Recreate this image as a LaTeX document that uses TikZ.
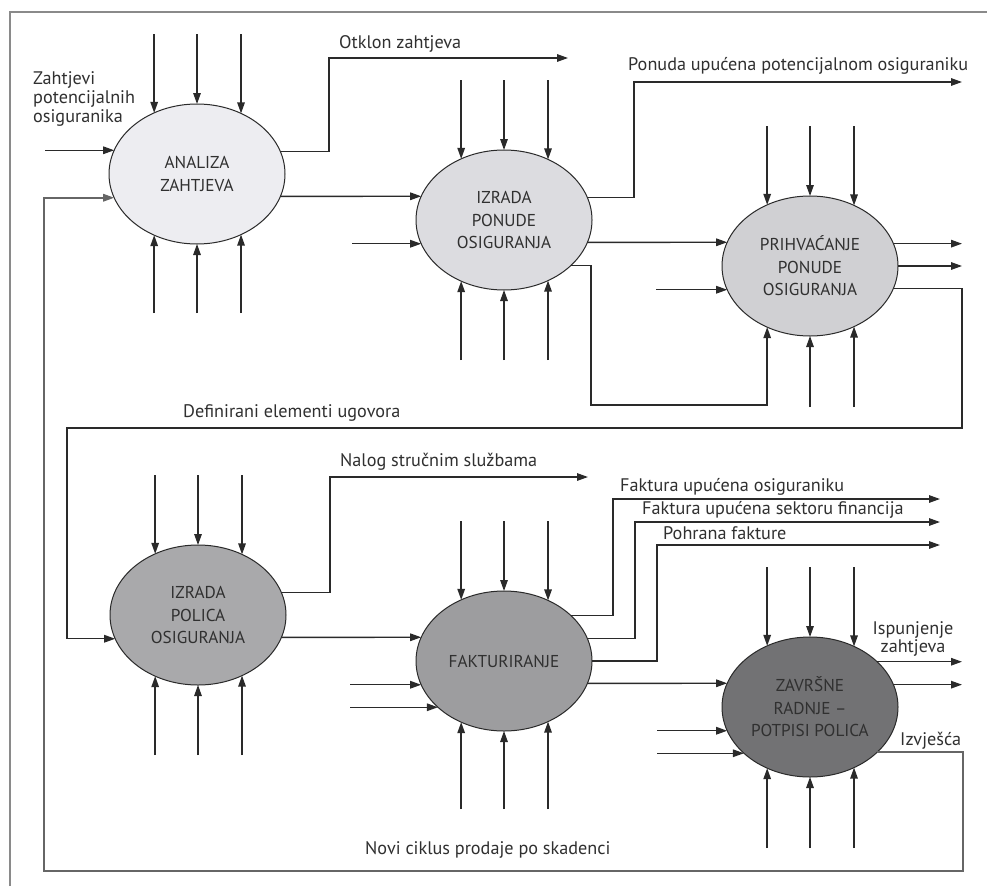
\documentclass[tikz,border=0pt]{standalone}
\usepackage{fontspec}
\setmainfont{PT Sans}
\usetikzlibrary{shapes.geometric,arrows.meta,calc}
\definecolor{fa}{HTML}{EDEDF1}
\definecolor{fb}{HTML}{DCDCE0}
\definecolor{fc}{HTML}{D0D0D3}
\definecolor{fd}{HTML}{A9A9AB}
\definecolor{fe}{HTML}{9D9D9F}
\definecolor{ff}{HTML}{727274}
\definecolor{ink}{HTML}{2A2A2A}
\definecolor{txt}{HTML}{303030}
\definecolor{frm}{HTML}{8A8A8A}
\definecolor{lp}{HTML}{666666}
\begin{document}
\begin{tikzpicture}[x=1pt,y=-1pt,
  proc/.style={ellipse, draw=ink, line width=1pt, minimum width=176pt, minimum height=140pt,
    inner sep=0pt, outer sep=0pt, align=center, font=\fontsize{17.2}{22.5}\selectfont, text=txt},
  arr/.style={draw=ink, line width=1.4pt, -{Triangle[length=11pt,width=7.5pt]}},
  lparr/.style={draw=lp, line width=1.6pt, -{Triangle[length=11pt,width=7.5pt]}},
  lbl/.style={font=\fontsize{18.2}{19}\selectfont, text=txt, inner sep=0pt},
  frame/.style={draw=frm, line width=2pt}
]
\useasboundingbox (0,0) rectangle (987,886);
\fill[white] (0,0) rectangle (987,886);
\draw[frame] (10,886) -- (10,12) -- (987,12);

% processes
\node[proc, fill=fa] (e1) at (197,174) {ANALIZA\\ZAHTJEVA};
\node[proc, fill=fb] (e2) at (504,220) {IZRADA\\PONUDE\\OSIGURANJA};
\node[proc, fill=fc] (e3) at (810,266) {PRIHVAĆANJE\\PONUDE\\OSIGURANJA};
\node[proc, fill=fd] (e4) at (198,615) {IZRADA\\POLICA\\OSIGURANJA};
\node[proc, fill=fe] (e5) at (504,661) {FAKTURIRANJE};
\node[proc, fill=ff] (e6) at (810,707) {ZAVRŠNE\\RADNJE –\\POTPISI POLICA};

% vertical stubs above and below
\foreach \e/\t/\b in {e1/140/139, e2/140/140, e3/140/141, e4/140/140, e5/140/148, e6/140/141} {
  \coordinate (\e-t) at ($(\e.center)+(0,-\t)$);
  \coordinate (\e-b) at ($(\e.center)+(0,\b)$);
  \foreach \a in {125.97,90,54.03} \draw[arr] (\e.\a |- \e-t) -- (\e.\a);
  \foreach \a in {-90,-54.03} \draw[arr] (\e.\a |- \e-b) -- (\e.\a);
}
\foreach \e in {e1,e2,e4,e5,e6} \draw[arr] (\e.-125.97 |- \e-b) -- (\e.-125.97);

% columns
\coordinate (L1) at (45,0);
\coordinate (L2) at (352,0);
\coordinate (L3) at (656,0);
\coordinate (L5) at (350,0);
\coordinate (L6) at (657,0);
\coordinate (R) at (962,0);
\coordinate (R2) at (940,0);

% row 1
\draw[arr] (e1.164.53 -| L1) -- (e1.164.53);
\coordinate (otk) at (329,58);
\coordinate (otkE) at (568,58);
\draw[arr] (e1.15.47) -| (otk) -- (otkE);
\draw[arr] (e1.-15.47) -- (e2.164.53);
\draw[arr] (e2.-164.53 -| L2) -- (e2.-164.53);
\coordinate (pon) at (634,82);
\draw[arr] (e2.15.47) -| (pon) -- (pon -| R);
\draw[arr] (e2.-15.47) -- (e3.164.53);
\coordinate (c1) at (591,405);
\draw[arr] (e2.-34.74) -| (c1) -| (e3.-125.97);
\draw[arr] (e3.-164.53 -| L3) -- (e3.-164.53);
\draw[arr] (e3.15.47) -- (e3.15.47 -| R);
\draw[arr] (e3.east) -- (e3.east -| R);
\coordinate (d1) at (962,428);
\coordinate (d2) at (67,428);
\draw[arr] (e3.-15.47) -| (d1) -- (d2) |- (e4.-164.53);

% row 2
\coordinate (nal) at (330,477);
\coordinate (nalE) at (588,477);
\draw[arr] (e4.15.47) -| (nal) -- (nalE);
\draw[arr] (e4.-15.47) -- (e5.164.53);
\draw[arr] (e5.-164.53 -| L5) -- (e5.-164.53);
\draw[arr] (e5.-145.26 -| L5) -- (e5.-145.26);
\coordinate (g1) at (613,499);
\coordinate (g2) at (635,522);
\coordinate (g3) at (657,545);
\draw[arr] (e5.34.74) -| (g1) -- (g1 -| R2);
\draw[arr] (e5.15.47) -| (g2) -- (g2 -| R2);
\draw[arr] (e5.east) -| (g3) -- (g3 -| R2);
\draw[arr] (e5.-15.47) -- (e6.164.53);
\draw[arr] (e6.-164.53 -| L6) -- (e6.-164.53);
\draw[arr] (e6.-145.26 -| L6) -- (e6.-145.26);
\draw[arr] (e6.34.74) -- (e6.34.74 -| R);
\draw[arr] (e6.15.47) -- (e6.15.47 -| R);
\coordinate (z1) at (963,871);
\coordinate (z2) at (44,871);
\draw[lparr] (e6.-34.74) -| (z1) -- (z2) |- (e1.-164.53);

% labels
\node[lbl, anchor=west, align=left] (lZah) at (33,99) {Zahtjevi\\potencijalnih\\osiguranika};
\node[lbl, anchor=west] (lOtk) at (339,44) {Otklon zahtjeva};
\node[lbl, anchor=west] (lPon) at (628,66) {Ponuda upućena potencijalnom osiguraniku};
\node[lbl, anchor=west] (lDef) at (183,413) {Definirani elementi ugovora};
\node[lbl, anchor=west] (lNal) at (340,462) {Nalog stručnim službama};
\node[lbl, anchor=west] (lF1) at (620,487) {Faktura upućena osiguraniku};
\node[lbl, anchor=west] (lF2) at (642,510) {Faktura upućena sektoru financija};
\node[lbl, anchor=west] (lF3) at (663,533) {Pohrana fakture};
\node[lbl, align=center, font=\fontsize{18.2}{18}\selectfont] (lIsp) at (913,639) {Ispunjenje\\zahtjeva};
\node[lbl, anchor=west] (lIzv) at (900,741) {Izvješća};
\node[lbl, anchor=west] (lNovi) at (365,850) {Novi ciklus prodaje po skadenci};
\end{tikzpicture}
\end{document}
